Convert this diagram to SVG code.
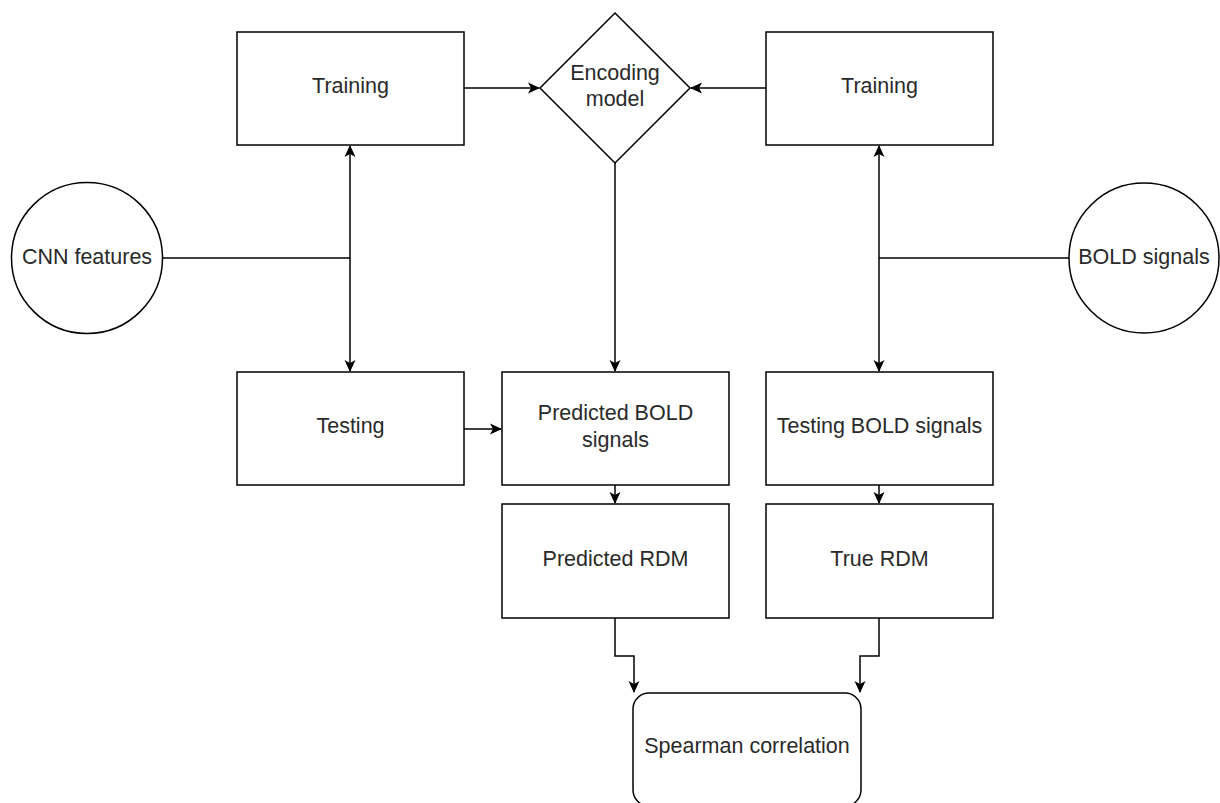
<svg xmlns="http://www.w3.org/2000/svg" width="1220" height="803" viewBox="0 0 1220 803">
<style>
.box{fill:#fff;stroke:#000;stroke-width:1.5}
.lbl{font-family:"Liberation Sans",Arial,sans-serif;font-size:21.5px;fill:#2a2a2a;text-anchor:middle;dominant-baseline:central}
.edge{fill:none;stroke:#000;stroke-width:1.5}
</style>
<defs>
<marker id="arr" viewBox="0 0 12 12" refX="11" refY="6" markerWidth="12" markerHeight="12" markerUnits="userSpaceOnUse" orient="auto-start-reverse">
<path d="M0,0.5 L12,6 L0,11.5 L3,6 Z" fill="#000"/>
</marker>
</defs>
<rect width="1220" height="803" fill="#fff"/>
<g id="connectors">
<path class="edge" d="M464,88 L539,88" marker-end="url(#arr)"/>
<path class="edge" d="M766,88 L691,88" marker-end="url(#arr)"/>
<path class="edge" d="M162,258 L350,258"/>
<path class="edge" d="M350,146 L350,371" marker-start="url(#arr)" marker-end="url(#arr)"/>
<path class="edge" d="M1070,258 L879,258"/>
<path class="edge" d="M879,146 L879,371" marker-start="url(#arr)" marker-end="url(#arr)"/>
<path class="edge" d="M615,163 L615,371" marker-end="url(#arr)"/>
<path class="edge" d="M464,429 L501,429" marker-end="url(#arr)"/>
<path class="edge" d="M615,485 L615,503" marker-end="url(#arr)"/>
<path class="edge" d="M879,485 L879,503" marker-end="url(#arr)"/>
<path class="edge" d="M615,618 L615,656 L634,656 L634,692" marker-end="url(#arr)"/>
<path class="edge" d="M879,618 L879,656 L860,656 L860,692" marker-end="url(#arr)"/>
</g>
<g id="training-left"><rect class="box" x="237" y="32" width="227" height="113"/><text class="lbl" x="350.5" y="86">Training</text></g>
<g id="encoding-model"><path class="box" d="M615,13 L690,88 L615,163 L540,88 Z"/><text class="lbl" x="615" y="73">Encoding</text><text class="lbl" x="615" y="99">model</text></g>
<g id="training-right"><rect class="box" x="766" y="32" width="227" height="113"/><text class="lbl" x="879.5" y="86">Training</text></g>
<g id="cnn-features"><circle class="box" cx="87" cy="258" r="75.5"/><text class="lbl" x="87" y="257">CNN features</text></g>
<g id="bold-signals"><circle class="box" cx="1144" cy="258" r="75"/><text class="lbl" x="1144" y="257">BOLD signals</text></g>
<g id="testing"><rect class="box" x="237" y="372" width="227" height="113"/><text class="lbl" x="350.5" y="426">Testing</text></g>
<g id="predicted-bold"><rect class="box" x="502" y="372" width="227" height="113"/><text class="lbl" x="615.5" y="413">Predicted BOLD</text><text class="lbl" x="615.5" y="440">signals</text></g>
<g id="testing-bold"><rect class="box" x="766" y="372" width="227" height="113"/><text class="lbl" x="879.5" y="426">Testing BOLD signals</text></g>
<g id="predicted-rdm"><rect class="box" x="502" y="504" width="227" height="114"/><text class="lbl" x="615.5" y="559">Predicted RDM</text></g>
<g id="true-rdm"><rect class="box" x="766" y="504" width="227" height="114"/><text class="lbl" x="879.5" y="559">True RDM</text></g>
<g id="spearman"><rect class="box" x="633" y="693" width="228" height="113" rx="16" ry="16"/><text class="lbl" x="747" y="746">Spearman correlation</text></g>
</svg>
